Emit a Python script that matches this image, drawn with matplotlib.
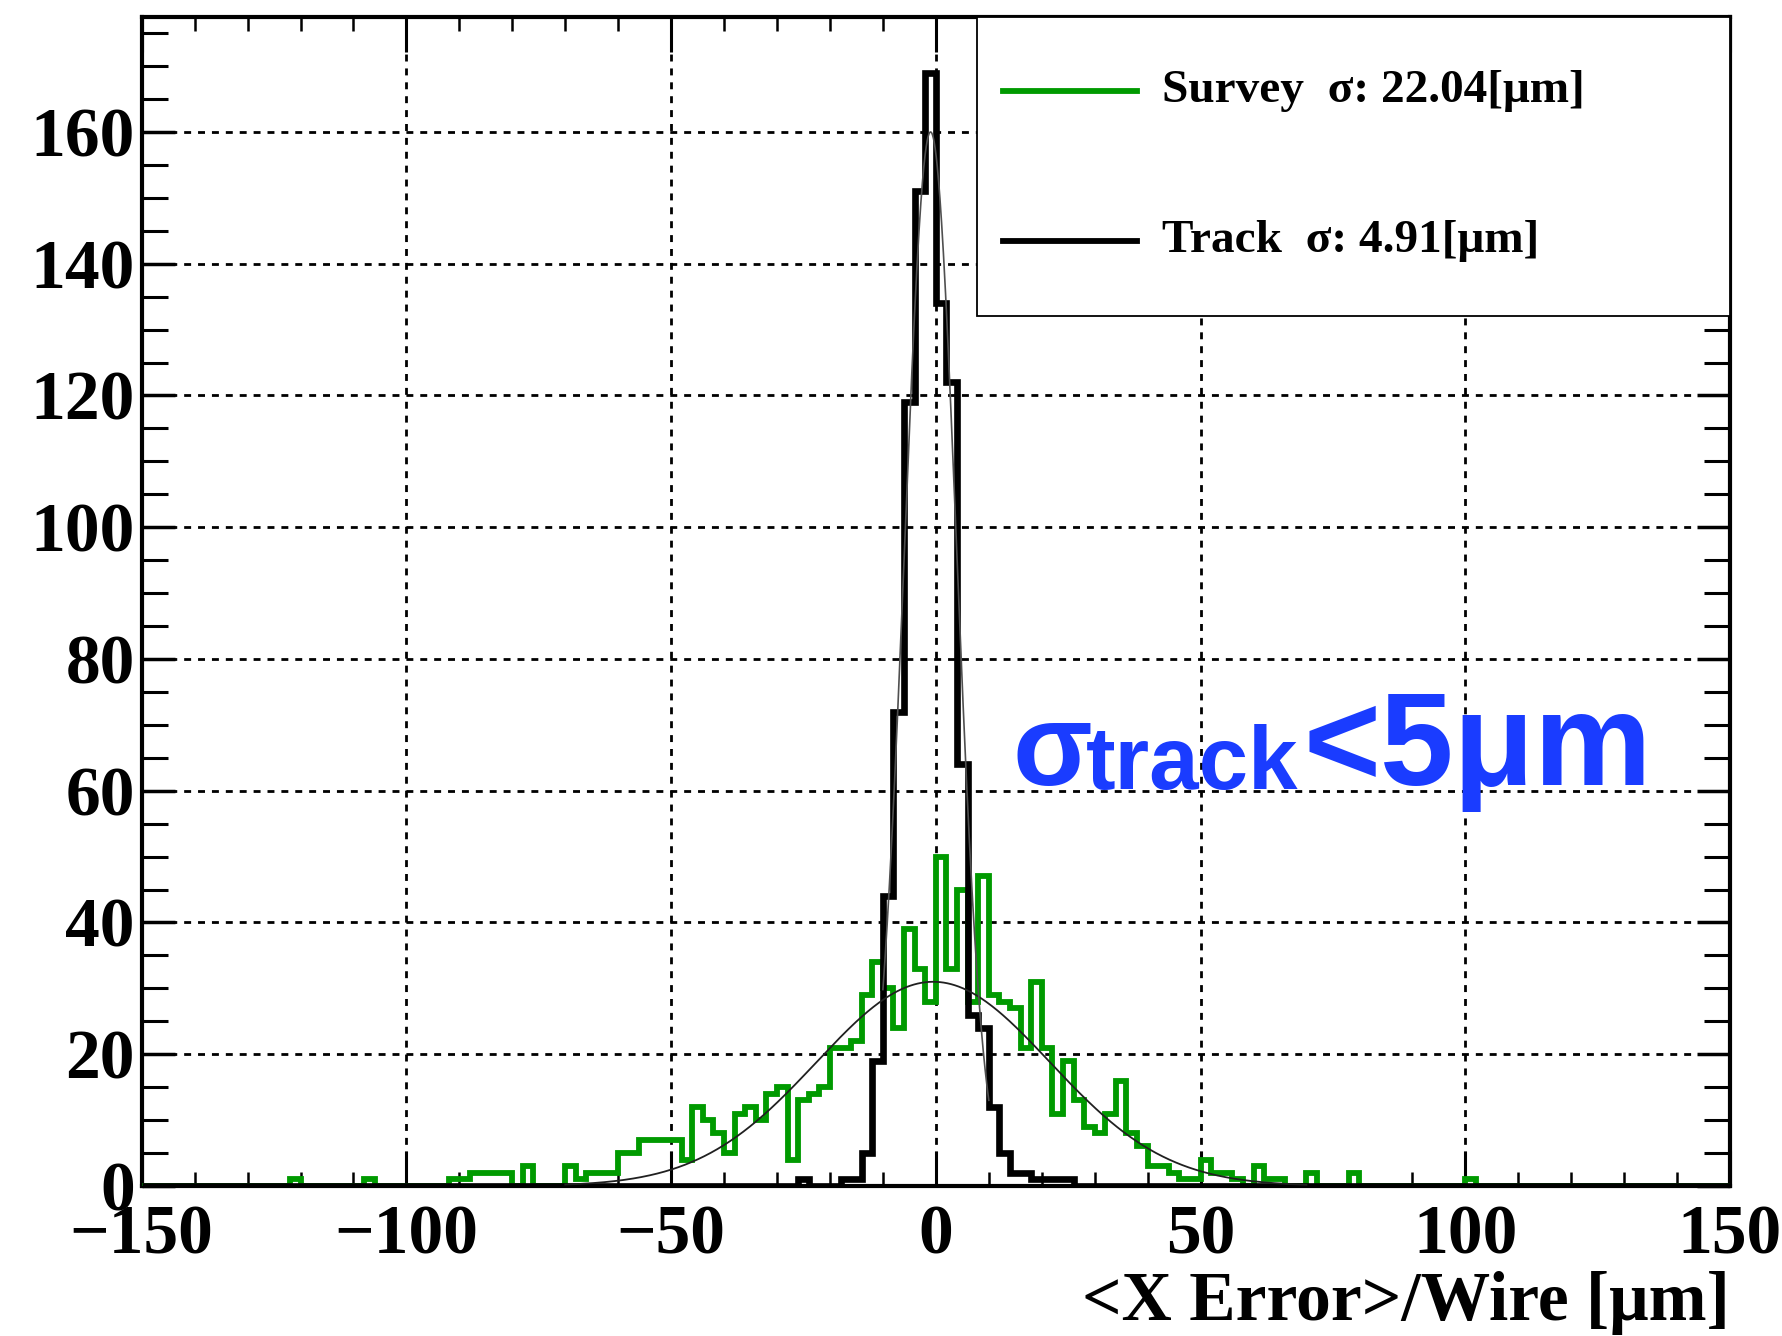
import numpy as np
import matplotlib
matplotlib.use("Agg")
import matplotlib.pyplot as plt
from matplotlib.patches import Rectangle
from matplotlib.lines import Line2D
from matplotlib.ticker import MultipleLocator

plt.rcParams['font.family'] = ['Liberation Serif', 'DejaVu Serif']
plt.rcParams['font.weight'] = 'bold'
plt.rcParams['axes.labelweight'] = 'bold'

# Data: histogram bins are 2 um wide from -150 to 150, only non-empty bins listed
bin_width = 2
survey_bins = [-122, -108, -92, -90, -88, -86, -84, -82, -78, -70, -68, -66, -64, -62,
               -60, -58, -56, -54, -52, -50, -48, -46, -44, -42, -40, -38, -36, -34,
               -32, -30, -28, -26, -24, -22, -20, -18, -16, -14, -12, -10, -8, -6,
               -4, -2, 0, 2, 4, 6, 8, 10, 12, 14, 16, 18, 20, 22, 24, 26, 28, 30,
               32, 34, 36, 38, 40, 42, 44, 46, 48, 50, 52, 54, 56, 60, 62, 64, 70,
               78, 100]
survey_counts = [1, 1, 1, 1, 2, 2, 2, 2, 3, 3, 1, 2, 2, 2,
                 5, 5, 7, 7, 7, 7, 4, 12, 10, 8, 5, 11, 12, 10,
                 14, 15, 4, 13, 14, 15, 21, 21, 22, 29, 34, 30, 24, 39,
                 33, 28, 50, 33, 45, 28, 47, 29, 28, 27, 21, 31, 21, 11, 19, 13, 9, 8,
                 11, 16, 8, 6, 3, 3, 2, 1, 1, 4, 2, 2, 1, 3, 1, 1, 2,
                 2, 1]

track_bins = [-26, -18, -16, -14, -12, -10, -8, -6, -4, -2, 0, 2, 4, 6, 8, 10,
              12, 14, 16, 18, 20, 22, 24]
track_counts = [1, 1, 1, 5, 19, 44, 72, 119, 151, 169, 134, 122, 64, 26, 24, 12,
                5, 2, 2, 1, 1, 1, 1]

# Gaussian fit results
survey_fit = dict(amp=31.0, mean=-0.5, sigma=22.04)
track_fit = dict(amp=160.0, mean=-1.0, sigma=4.91)

edges = np.arange(-150, 150 + bin_width, bin_width)
survey_h = np.zeros(len(edges) - 1)
survey_h[(np.array(survey_bins) + 150) // bin_width] = survey_counts
track_h = np.zeros(len(edges) - 1)
track_h[(np.array(track_bins) + 150) // bin_width] = track_counts

green = '#009a00'

fig = plt.figure(figsize=(17.83, 13.36), dpi=100)
ax = fig.add_axes([141.7 / 1783, 1 - 1186 / 1336, (1730 - 141.7) / 1783, (1186 - 17) / 1336])

ax.stairs(survey_h, edges, color=green, linewidth=4.2, zorder=3)
ax.stairs(track_h, edges, color='black', linewidth=4.8, zorder=4)

def gauss(x, amp, mean, sigma):
    return amp * np.exp(-0.5 * ((x - mean) / sigma) ** 2)

xs = np.linspace(-70, 70, 800)
ax.plot(xs, gauss(xs, **survey_fit), color='#202020', linewidth=1.3, zorder=5)
xt = np.linspace(-10, 10, 400)
ax.plot(xt, gauss(xt, **track_fit), color='#505050', linewidth=1.2, zorder=5)

ax.set_xlim(-150, 150)
ax.set_ylim(0, 169 * 1.05)
ax.set_xticks(np.arange(-150, 151, 50))
ax.set_yticks(np.arange(0, 161, 20))
ax.xaxis.set_minor_locator(MultipleLocator(10))
ax.yaxis.set_minor_locator(MultipleLocator(5))

ax.set_axisbelow(True)
ax.grid(True, which='major', color='black', linestyle=(0, (2.5, 2.5)), linewidth=2.0)

ax.tick_params(which='both', direction='in', top=True, right=True, colors='black')
ax.tick_params(axis='x', which='major', length=25, width=2.2, labelsize=50, pad=13)
ax.tick_params(axis='x', which='minor', length=10, width=1.8)
ax.tick_params(axis='y', which='major', length=24, width=2.5, labelsize=50, pad=5)
ax.tick_params(axis='y', which='minor', length=18.5, width=2.2)
for s in ax.spines.values():
    s.set_linewidth(3)

ax.set_xlabel('<X Error>/Wire [μm]', loc='right', fontsize=50, labelpad=2)

# legend box
ax.add_patch(Rectangle((0.526, 0.744), 0.474, 0.256, transform=ax.transAxes,
                       facecolor='white', edgecolor='black', linewidth=1.3, zorder=6))
ax.add_line(Line2D([0.5423, 0.6267], [0.9367, 0.9367], transform=ax.transAxes,
                   color=green, linewidth=4.2, zorder=7))
ax.add_line(Line2D([0.5423, 0.6267], [0.8084, 0.8084], transform=ax.transAxes,
                   color='black', linewidth=4.2, zorder=7))
ax.text(0.6424, 0.9367, 'Survey  σ: 22.04[μm]', transform=ax.transAxes,
        fontsize=34, va='center', ha='left', zorder=7)
ax.text(0.6424, 0.8084, 'Track  σ: 4.91[μm]', transform=ax.transAxes,
        fontsize=34, va='center', ha='left', zorder=7)

# annotation
blue = '#1a3cff'
sans = ['Liberation Sans', 'DejaVu Sans']
ax.text(14.4, 60.8, 'σ', fontsize=84, color=blue, family=sans, weight='bold',
        va='baseline', ha='left', zorder=7)
ax.text(28.4, 60.2, 'track', fontsize=64, color=blue, family=sans, weight='bold',
        va='baseline', ha='left', zorder=7)
ax.text(69.4, 60.8, '<5μm', fontsize=95, color=blue, family=sans, weight='bold',
        va='baseline', ha='left', zorder=7)

fig.savefig('out.png', dpi=100)
